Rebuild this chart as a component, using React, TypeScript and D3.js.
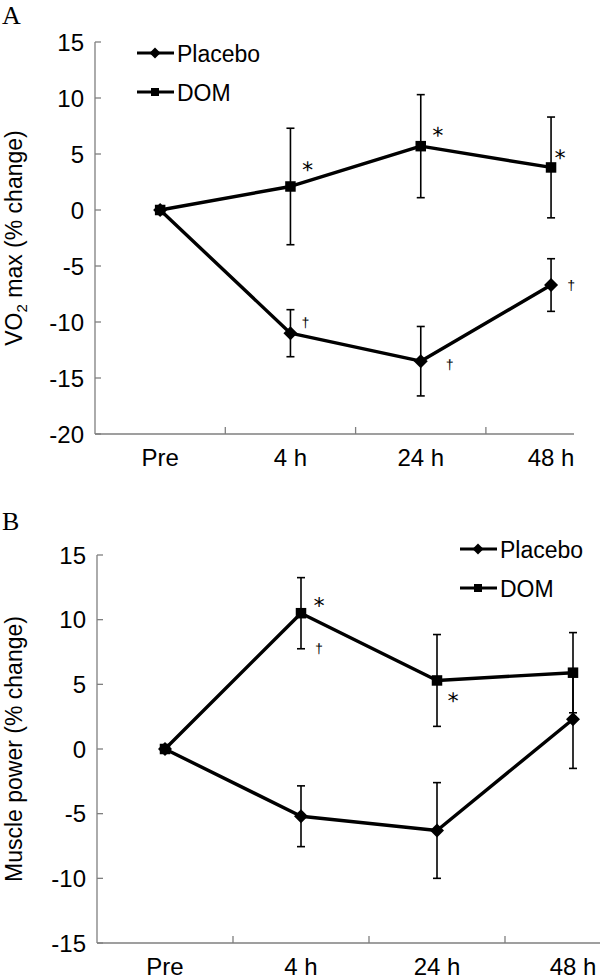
import React from "react";
import * as d3 from "d3";

const categories = ["Pre", "4 h", "24 h", "48 h"];

// Panel A: VO2 max (% change)
const vo2Placebo = [0, -11.0, -13.5, -6.7];
const vo2PlaceboSD = [0, 2.1, 3.1, 2.35];
const vo2Dom = [0, 2.1, 5.7, 3.8];
const vo2DomSD = [0, 5.2, 4.6, 4.5];
const vo2Ticks = [15, 10, 5, 0, -5, -10, -15, -20];

// Panel B: Muscle power (% change)
const powPlacebo = [0, -5.2, -6.3, 2.3];
const powPlaceboSD = [0, 2.35, 3.7, 3.8];
const powDom = [0, 10.5, 5.3, 5.9];
const powDomSD = [0, 2.75, 3.55, 3.1];
const powTicks = [15, 10, 5, 0, -5, -10, -15];

const seriesNames = ["Placebo", "DOM"];

// annotation symbols: [series, index, symbol]
const vo2Marks: [string, number, string][] = [
  ["DOM", 1, "*"], ["DOM", 2, "*"], ["DOM", 3, "*"],
  ["Placebo", 1, "†"], ["Placebo", 2, "†"], ["Placebo", 3, "†"],
];
const powMarks: [string, number, string][] = [
  ["DOM", 1, "*"], ["DOM", 1, "†"], ["DOM", 2, "*"],
];

const FONT = "'Liberation Sans', Arial, sans-serif";
const AXIS = "#7f7f7f";

type PanelProps = {
  label: string;
  yTitle: React.ReactNode;
  yDomain: [number, number];
  yRange: [number, number];
  ticks: number[];
  x0: number;
  band: number;
  axisEnd: number;
  placebo: number[];
  placeboSD: number[];
  dom: number[];
  domSD: number[];
  marks: [string, number, string][];
  markOffsets: [number, number][];
  legend: { x: number; y: number };
  labelY: number;
};

function Diamond({ cx, cy, r }: { cx: number; cy: number; r: number }) {
  return <path d={`M${cx},${cy - r}L${cx + r},${cy}L${cx},${cy + r}L${cx - r},${cy}Z`} fill="#000" />;
}
function Square({ cx, cy, s }: { cx: number; cy: number; s: number }) {
  return <rect x={cx - s / 2} y={cy - s / 2} width={s} height={s} fill="#000" />;
}

function Panel(p: PanelProps) {
  const x = d3.scaleBand<string>().domain(categories).range([p.x0, p.x0 + p.band * categories.length]).padding(0);
  const y = d3.scaleLinear().domain(p.yDomain).range(p.yRange);
  const cx = (c: string) => (x(c) as number) + x.bandwidth() / 2;
  const line = d3
    .line<number>()
    .x((_, i) => cx(categories[i]))
    .y((v) => y(v));
  const yBottom = y(p.yDomain[0]);
  const yTop = y(p.yDomain[1]);

  const errBars = (vals: number[], sd: number[], key: string) =>
    vals.map((v, i) =>
      sd[i] > 0 ? (
        <g key={key + i} stroke="#000" strokeWidth={1.6}>
          <line x1={cx(categories[i])} x2={cx(categories[i])} y1={y(v + sd[i])} y2={y(v - sd[i])} />
          <line x1={cx(categories[i]) - 4} x2={cx(categories[i]) + 4} y1={y(v + sd[i])} y2={y(v + sd[i])} />
          <line x1={cx(categories[i]) - 4} x2={cx(categories[i]) + 4} y1={y(v - sd[i])} y2={y(v - sd[i])} />
        </g>
      ) : null
    );

  return (
    <g>
      <text x={2} y={p.labelY} fontFamily="'Liberation Serif', 'Times New Roman', serif" fontSize={26}>
        {p.label}
      </text>
      {/* y axis */}
      <line x1={p.x0} x2={p.x0} y1={yTop} y2={yBottom} stroke={AXIS} strokeWidth={1.3} />
      {p.ticks.map((t) => (
        <g key={"yt" + t}>
          <line x1={p.x0} x2={p.x0 + 6} y1={y(t)} y2={y(t)} stroke={AXIS} strokeWidth={1.3} />
          <text x={p.x0 - 11} y={y(t) + 8.5} textAnchor="end" fontFamily={FONT} fontSize={24}>
            {t}
          </text>
        </g>
      ))}
      {/* x axis */}
      <line x1={p.x0} x2={p.axisEnd} y1={yBottom} y2={yBottom} stroke={AXIS} strokeWidth={1.3} />
      {categories.slice(1).map((c) => (
        <line key={"xt" + c} x1={x(c)} x2={x(c)} y1={yBottom} y2={yBottom - 7} stroke={AXIS} strokeWidth={1.3} />
      ))}
      {categories.map((c) => (
        <text key={"xl" + c} x={cx(c)} y={yBottom + 32} textAnchor="middle" fontFamily={FONT} fontSize={24}>
          {c}
        </text>
      ))}
      {/* y title */}
      <g transform={`translate(22,${(yTop + yBottom) / 2}) rotate(-90)`}>
        <text textAnchor="middle" fontFamily={FONT} fontSize={23}>
          {p.yTitle}
        </text>
      </g>
      {/* error bars */}
      {errBars(p.placebo, p.placeboSD, "pe")}
      {errBars(p.dom, p.domSD, "de")}
      {/* lines */}
      <path d={line(p.placebo) as string} fill="none" stroke="#000" strokeWidth={3.4} strokeLinejoin="round" />
      <path d={line(p.dom) as string} fill="none" stroke="#000" strokeWidth={3.4} strokeLinejoin="round" />
      {p.placebo.map((v, i) => (
        <Diamond key={"pd" + i} cx={cx(categories[i])} cy={y(v)} r={7} />
      ))}
      {p.dom.map((v, i) => (
        <Square key={"ds" + i} cx={cx(categories[i])} cy={y(v)} s={10.5} />
      ))}
      {/* annotations */}
      {p.marks.map(([s, i, sym], k) => {
        const v = s === "DOM" ? p.dom[i] : p.placebo[i];
        const [dx, dy] = p.markOffsets[k];
        const isStar = sym === "*";
        const tx = cx(categories[i]) + dx;
        const ty = y(v) + dy + (isStar ? 15 : 5);
        return (
          <text
            key={"m" + k}
            x={tx}
            y={ty}
            transform={`rotate(0.5 ${tx} ${ty})`}
            textAnchor="middle"
            fontFamily={isStar ? "'DejaVu Sans', sans-serif" : FONT}
            fontSize={isStar ? 22 : 14}
            fill="#000"
          >
            {sym}
          </text>
        );
      })}
      {/* legend */}
      {seriesNames.map((n, i) => {
        const ly = p.legend.y + i * 39;
        const lx = p.legend.x;
        return (
          <g key={"lg" + n}>
            <line x1={lx} x2={lx + 37} y1={ly} y2={ly} stroke="#000" strokeWidth={3} />
            {i === 0 ? <Diamond cx={lx + 18} cy={ly} r={5.5} /> : <Square cx={lx + 18} cy={ly} s={8} />}
            <text x={lx + 40} y={ly + 8.5} fontFamily={FONT} fontSize={23}>
              {n}
            </text>
          </g>
        );
      })}
    </g>
  );
}

export default function App() {
  return (
    <svg width={600} height={979} style={{ position: "absolute", left: 0, top: 0, background: "#fff" }}>
      <rect width={600} height={979} fill="#fff" />
      <Panel
        label="A"
        yTitle={
          <>
            VO<tspan fontSize={15} dy={5}>2</tspan>
            <tspan dy={-5}> max (% change)</tspan>
          </>
        }
        yDomain={[-20, 15]}
        yRange={[434, 42]}
        ticks={vo2Ticks}
        x0={95}
        band={130.3}
        axisEnd={574}
        placebo={vo2Placebo}
        placeboSD={vo2PlaceboSD}
        dom={vo2Dom}
        domSD={vo2DomSD}
        marks={vo2Marks}
        markOffsets={[
          [17, -24],
          [17, -18],
          [9, -17],
          [15, -11],
          [29, 3],
          [20, 0],
        ]}
        legend={{ x: 137, y: 53 }}
        labelY={24}
      />
      <Panel
        label="B"
        yTitle="Muscle power (% change)"
        yDomain={[-15, 15]}
        yRange={[943, 555]}
        ticks={powTicks}
        x0={97}
        band={136}
        axisEnd={600}
        placebo={powPlacebo}
        placeboSD={powPlaceboSD}
        dom={powDom}
        domSD={powDomSD}
        marks={powMarks}
        markOffsets={[
          [18, -15],
          [18, 35],
          [16, 13],
        ]}
        legend={{ x: 460, y: 549 }}
        labelY={530}
      />
    </svg>
  );
}
